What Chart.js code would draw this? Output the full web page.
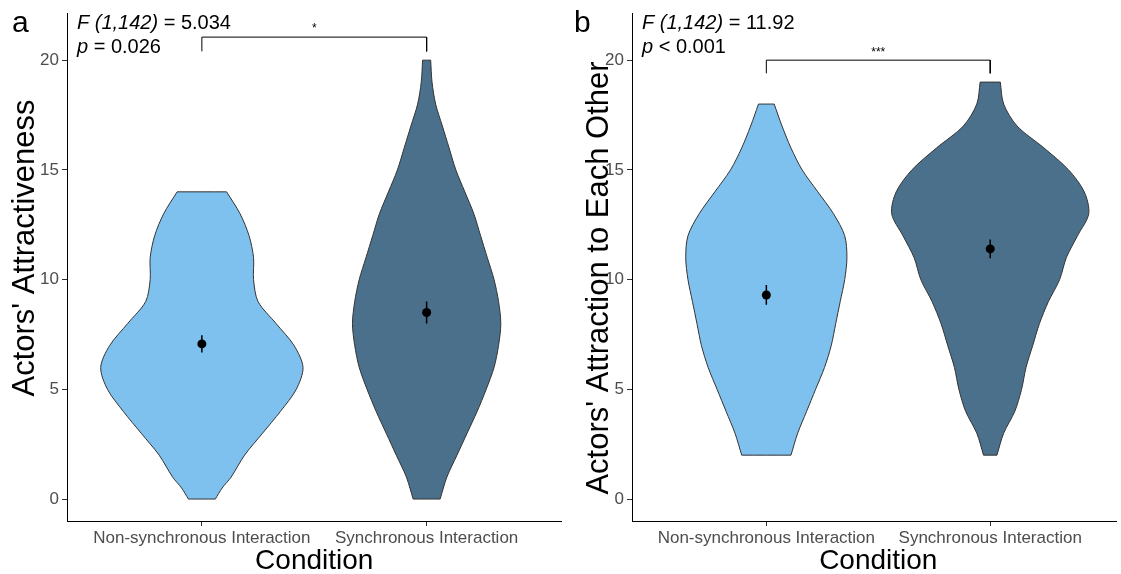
<!DOCTYPE html>
<html>
<head>
<meta charset="utf-8">
<script src="https://cdn.jsdelivr.net/npm/chart.js@4.4.1/dist/chart.umd.min.js"></script>
<style>
    html, body { margin: 0; padding: 0; background: #fff; }
    #wrap { position: relative; width: 1121px; height: 574px; overflow: hidden; }
    .panel { position: absolute; top: 0; height: 574px; }
</style>
</head>
<body>
<div id="wrap">
    <div class="panel" style="left:0;width:566px"><canvas id="chartA"></canvas></div>
    <div class="panel" style="left:566px;width:555px"><canvas id="chartB"></canvas></div>
</div>
<script>
const conditions = ['Non-synchronous Interaction', 'Synchronous Interaction']
const yTicks = [0, 5, 10, 15, 20]
const fillColors = ['#7EC0EE', '#4A708B']

// panel a - actors' attractiveness (violin half widths in category units)
const attrLevelsNonSync = [0, 0.5, 1, 2, 3, 4, 5, 6, 7, 8, 9, 10, 11, 12, 13, 14]
const attrWidthsNonSync = [0.06, 0.09, 0.13, 0.19, 0.27, 0.35, 0.42, 0.45, 0.41, 0.33, 0.25, 0.23, 0.23, 0.21, 0.17, 0.11]
const attrLevelsSync = [0, 1, 2, 3, 4, 5, 6, 7, 8, 9, 10, 11, 12, 13, 14, 15, 16, 17, 18, 19, 20]
const attrWidthsSync = [0.06, 0.09, 0.135, 0.18, 0.225, 0.265, 0.30, 0.32, 0.33, 0.32, 0.30, 0.27, 0.24, 0.21, 0.17, 0.13, 0.10, 0.07, 0.04, 0.024, 0.018]
const attrMeans = [7.07, 8.5]
const attrErrors = [0.39, 0.5]

// panel b - actors' attraction to each other
const pairLevelsNonSync = [2, 3, 4, 5, 6, 7, 8, 9, 10, 11, 12, 13, 14, 15, 16, 17, 18]
const pairWidthsNonSync = [0.11, 0.14, 0.18, 0.22, 0.26, 0.29, 0.31, 0.33, 0.35, 0.36, 0.35, 0.30, 0.23, 0.16, 0.11, 0.07, 0.035]
const pairLevelsSync = [2, 3, 4, 5, 6, 7, 8, 9, 10, 11, 12, 13, 14, 15, 16, 17, 18, 19]
const pairWidthsSync = [0.03, 0.06, 0.11, 0.14, 0.16, 0.19, 0.22, 0.26, 0.31, 0.34, 0.39, 0.44, 0.42, 0.35, 0.24, 0.12, 0.06, 0.045]
const pairMeans = [9.3, 11.4]
const pairErrors = [0.45, 0.43]

const fontFamily = '"Liberation Sans", Arial, sans-serif'

// closed outline: up the right side, across the top, down the left side
// end points are doubled so the curve keeps sharp corners at the flat caps
function violinPoints(center, levels, widths) {
    const right = levels.map((v, i) => ({ x: center + widths[i], y: v }))
    const left = levels.map((v, i) => ({ x: center - widths[i], y: v })).reverse()
    const dup = side => [side[0], ...side, side[side.length - 1]]
    return [...dup(right), ...dup(left), right[0]]
}

function drawRuns(ctx, runs, x, y, size) {
    runs.forEach(([text, italic]) => {
        ctx.font = `${italic ? 'italic ' : ''}${size}px ${fontFamily}`
        ctx.fillText(text, x, y)
        x += ctx.measureText(text).width
    })
}

const panelText = {
    id: 'panelText',
    afterDraw(chart, args, opts) {
        const { ctx, chartArea, scales } = chart
        ctx.save()
        ctx.fillStyle = '#000'
        ctx.textBaseline = 'alphabetic'
        ctx.textAlign = 'left'
        ctx.font = `30px ${fontFamily}`
        ctx.fillText(opts.letter, opts.letterX, 32)

        drawRuns(ctx, [['F (1,142)', true], [' = ' + opts.fValue, false]], chartArea.left + 10, 29, 20)
        drawRuns(ctx, [['p', true], [' ' + opts.pText, false]], chartArea.left + 10, 53, 20)

        ctx.textAlign = 'center'
        ctx.font = `12px ${fontFamily}`
        ctx.fillText(opts.stars, scales.x.getPixelForValue(1.5), scales.y.getPixelForValue(opts.starY))

        ctx.font = `28px ${fontFamily}`
        ctx.fillText('Condition', scales.x.getPixelForValue(1.5), 569)

        ctx.font = `31px ${fontFamily}`
        ctx.translate(opts.yTitleX, opts.yTitleY)
        ctx.rotate(-Math.PI / 2)
        ctx.fillText(opts.yTitle, 0, 0)
        ctx.restore()
    }
}

function makeChart(id, p) {
    const datasets = []
    p.violins.forEach((v, i) => {
        datasets.push({
            data: violinPoints(i + 1, v.levels, v.widths),
            borderColor: '#333',
            borderWidth: 1,
            backgroundColor: fillColors[i],
            fill: 'shape',
            tension: 0.3,
            pointRadius: 0,
            order: 3
        })
    })
    p.means.forEach((m, i) => {
        datasets.push({
            data: [{ x: i + 1, y: m - p.errors[i] }, { x: i + 1, y: m + p.errors[i] }],
            borderColor: '#000',
            borderWidth: 1.5,
            pointRadius: 0,
            fill: false,
            order: 2
        })
    })
    datasets.push({
        type: 'scatter',
        data: p.means.map((m, i) => ({ x: i + 1, y: m })),
        backgroundColor: '#000',
        borderWidth: 0,
        pointRadius: 4.5,
        order: 1
    })
    datasets.push({
        data: [{ x: 1, y: p.bracket[0] }, { x: 1, y: p.bracket[1] }, { x: 2, y: p.bracket[1] }, { x: 2, y: p.bracket[0] }],
        borderColor: '#000',
        borderWidth: 1,
        pointRadius: 0,
        fill: false,
        order: 1
    })

    const axisGrid = { drawOnChartArea: false, drawTicks: true, tickLength: 5, color: '#333' }
    const tickFont = { family: fontFamily, size: 17 }

    return new Chart(document.getElementById(id), {
        type: 'line',
        data: { datasets },
        options: {
            responsive: true,
            maintainAspectRatio: false,
            animation: false,
            devicePixelRatio: 1,
            layout: { padding: { left: 0, right: p.padRight, top: 12, bottom: 0 } },
            plugins: {
                legend: { display: false },
                tooltip: { enabled: false },
                panelText: p.text
            },
            scales: {
                x: {
                    type: 'linear',
                    min: 0.4,
                    max: p.xMax,
                    afterBuildTicks: axis => { axis.ticks = conditions.map((c, i) => ({ value: i + 1 })) },
                    afterFit: axis => { axis.height = 53 },
                    ticks: {
                        callback: value => conditions[value - 1],
                        font: tickFont,
                        color: '#4d4d4d',
                        padding: 2,
                        maxRotation: 0,
                        autoSkip: false
                    },
                    grid: axisGrid,
                    border: { color: '#000', width: 1 }
                },
                y: {
                    type: 'linear',
                    min: -1,
                    max: 22.14,
                    afterBuildTicks: axis => { axis.ticks = yTicks.map(v => ({ value: v })) },
                    afterFit: axis => { axis.width = p.yAxisWidth },
                    ticks: { font: tickFont, color: '#4d4d4d', padding: 3 },
                    grid: axisGrid,
                    border: { color: '#000', width: 1 }
                }
            }
        },
        plugins: [panelText]
    })
}

makeChart('chartA', {
    violins: [
        { levels: attrLevelsNonSync, widths: attrWidthsNonSync },
        { levels: attrLevelsSync, widths: attrWidthsSync }
    ],
    means: attrMeans,
    errors: attrErrors,
    bracket: [20.4, 21.05],
    xMax: 2.6,
    padRight: 3,
    yAxisWidth: 67,
    text: {
        letter: 'a', letterX: 12,
        fValue: '5.034', pText: '= 0.026',
        stars: '*', starY: 21.27,
        yTitle: "Actors' Attractiveness", yTitleX: 34, yTitleY: 248
    }
})

makeChart('chartB', {
    violins: [
        { levels: pairLevelsNonSync, widths: pairWidthsNonSync },
        { levels: pairLevelsSync, widths: pairWidthsSync }
    ],
    means: pairMeans,
    errors: pairErrors,
    bracket: [19.4, 20.0],
    xMax: 2.564,
    padRight: 0,
    yAxisWidth: 66,
    text: {
        letter: 'b', letterX: 8,
        fValue: '11.92', pText: '< 0.001',
        stars: '***', starY: 20.2,
        yTitle: "Actors' Attraction to Each Other", yTitleX: 42, yTitleY: 278
    }
})
</script>
</body>
</html>
